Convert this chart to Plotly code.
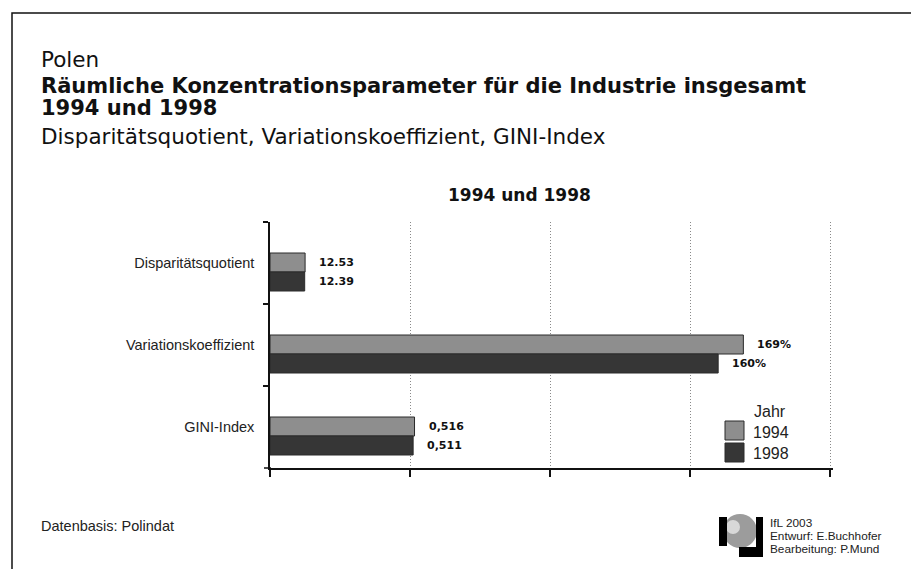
import plotly.graph_objects as go

# ---- data ----
categories = ["Disparitätsquotient", "Variationskoeffizient", "GINI-Index"]
years = ["1994", "1998"]
# values as shown on the chart (Disparitätsquotient, Variationskoeffizient in %, GINI-Index)
values_1994 = [12.53, 169, 0.516]
values_1998 = [12.39, 160, 0.511]
# scale used by the chart to draw the three measures on one common axis
scale = [0.01, 0.01, 1.0]
labels_1994 = ["12.53", "169%", "0,516"]
labels_1998 = ["12.39", "160%", "0,511"]

colors = {"1994": "#8e8e8e", "1998": "#363636"}
SANS = "Liberation Sans, Arial, Helvetica, sans-serif"
WIDE = "DejaVu Sans, Verdana, sans-serif"

# page geometry (the page has an 8px body margin)
OFF = 8
W, H = 919 - OFF, 569 - OFF
L, R, T, B = 270, 833, 222, 468   # plot area in page pixels


def px(x):
    return (x - L) / (R - L)


def py(y):
    return (B - y) / (B - T)


bars_1994 = [v * s for v, s in zip(values_1994, scale)]
bars_1998 = [v * s for v, s in zip(values_1998, scale)]

BW = 19 / 82.0      # bar thickness in category units
SHIFT = 9 / 82.0    # group sits slightly below the category centre

fig = go.Figure()
fig.add_trace(go.Bar(
    y=categories, x=bars_1994, orientation="h", name="1994",
    width=BW, offset=SHIFT - BW,
    marker=dict(color=colors["1994"], line=dict(color="#2a2a2a", width=1)),
    showlegend=False, hoverinfo="skip",
))
fig.add_trace(go.Bar(
    y=categories, x=bars_1998, orientation="h", name="1998",
    width=BW, offset=SHIFT,
    marker=dict(color=colors["1998"], line=dict(color="#2a2a2a", width=1)),
    showlegend=False, hoverinfo="skip",
))

vfont = dict(family=WIDE, size=11, color="#111", weight="bold")
annotations = []
for cat, v, lab in zip(categories, bars_1994, labels_1994):
    annotations.append(dict(x=v, y=cat, xref="x", yref="y", text=lab, showarrow=False,
                            xanchor="left", yanchor="middle", xshift=12, yshift=0.5, font=vfont))
for cat, v, lab in zip(categories, bars_1998, labels_1998):
    annotations.append(dict(x=v, y=cat, xref="x", yref="y", text=lab, showarrow=False,
                            xanchor="left", yanchor="middle", xshift=12, yshift=-18.5, font=vfont))

annotations += [
    dict(x=px(39), y=py(59), text="Polen", xanchor="left", yanchor="middle",
         font=dict(family=WIDE, size=21.5, color="#111")),
    dict(x=px(39), y=py(86), text="<b>Räumliche Konzentrationsparameter für die Industrie insgesamt</b>",
         xanchor="left", yanchor="middle", font=dict(family=WIDE, size=21, color="#111")),
    dict(x=px(39), y=py(108), text="<b>1994 und 1998</b>",
         xanchor="left", yanchor="middle", font=dict(family=WIDE, size=21, color="#111")),
    dict(x=px(39), y=py(136), text="Disparitätsquotient, Variationskoeffizient, GINI-Index",
         xanchor="left", yanchor="middle", font=dict(family=WIDE, size=21.5, color="#111")),
    dict(x=px(519), y=py(195), text="<b>1994 und 1998</b>", xanchor="center", yanchor="middle",
         font=dict(family=WIDE, size=17, color="#111")),
    dict(x=px(39), y=py(526), text="Datenbasis: Polindat", xanchor="left", yanchor="middle",
         font=dict(family=SANS, size=14.5, color="#222")),
    # legend title
    dict(x=px(770), y=py(411), text="Jahr", xanchor="center", yanchor="middle",
         font=dict(family=SANS, size=16, color="#222")),
]
for i, line in enumerate(["IfL 2003", "Entwurf: E.Buchhofer", "Bearbeitung: P.Mund"]):
    annotations.append(dict(x=px(768), y=py(522.5 + 13 * i), text=line, xanchor="left",
                            yanchor="middle", font=dict(family=SANS, size=11.8, color="#222")))
for i, yr in enumerate(years):
    annotations.append(dict(x=px(751), y=py(432 + 21 * i), text=yr, xanchor="left", yanchor="middle",
                            font=dict(family=SANS, size=16, color="#222")))
for a in annotations:
    a.setdefault("xref", "paper")
    a.setdefault("yref", "paper")
    a.setdefault("showarrow", False)

shapes = []
# frame (no bottom edge)
shapes.append(dict(type="path", xref="paper", yref="paper",
                   path=f"M {px(12)},{py(580)} L {px(12)},{py(13)} L {px(914)},{py(13)} L {px(914)},{py(580)}",
                   line=dict(color="#111", width=1.5)))
# x axis line running a little past the y axis
shapes.append(dict(type="line", xref="paper", yref="paper", x0=px(264), x1=px(271), y0=0, y1=0,
                   line=dict(color="#111", width=1.5)))
# legend boxes
for i, yr in enumerate(years):
    shapes.append(dict(type="rect", xref="paper", yref="paper",
                       x0=px(725), x1=px(744), y0=py(421 + 22 * i), y1=py(440 + 22 * i),
                       fillcolor=colors[yr], line=dict(color="#2a2a2a", width=1)))
# logo
shapes += [
    dict(type="circle", xref="paper", yref="paper", x0=px(723), x1=px(757), y0=py(514), y1=py(548),
         fillcolor="#9c9c9c", line=dict(width=0)),
    dict(type="circle", xref="paper", yref="paper", x0=px(726), x1=px(740), y0=py(520), y1=py(534),
         fillcolor="#d8d8d8", line=dict(width=0)),
    dict(type="rect", xref="paper", yref="paper", x0=px(719), x1=px(727), y0=py(517), y1=py(546),
         fillcolor="#000", line=dict(width=0)),
    dict(type="rect", xref="paper", yref="paper", x0=px(756), x1=px(763), y0=py(517), y1=py(557),
         fillcolor="#000", line=dict(width=0)),
    dict(type="rect", xref="paper", yref="paper", x0=px(739), x1=px(763), y0=py(547), y1=py(557),
         fillcolor="#000", line=dict(width=0)),
]

fig.update_layout(
    width=W, height=H,
    margin=dict(l=L - OFF, r=W - (R - OFF), t=T - OFF, b=H - (B - OFF), pad=0),
    paper_bgcolor="white", plot_bgcolor="white",
    barmode="group",
    font=dict(family=SANS, size=14, color="#111"),
    annotations=annotations, shapes=shapes,
    xaxis=dict(range=[0, 2.01], tickvals=[0, 0.5, 1, 1.5, 2], showticklabels=False,
               showgrid=True, gridcolor="#8a8a8a", griddash="1px,2px", gridwidth=1,
               ticks="outside", ticklen=7, tickcolor="#111", tickwidth=1.5,
               showline=True, linecolor="#111", linewidth=1.5, zeroline=False, fixedrange=True),
    yaxis=dict(categoryorder="array", categoryarray=categories, autorange="reversed",
               showline=True, linecolor="#111", linewidth=1.5, ticks="outside", ticklen=5,
               tickcolor="#111", tickwidth=1.5, tickson="boundaries", showgrid=False,
               ticklabelstandoff=11, tickfont=dict(family=SANS, size=14.5, color="#222"),
               fixedrange=True),
)

fig.write_html("out.html")
